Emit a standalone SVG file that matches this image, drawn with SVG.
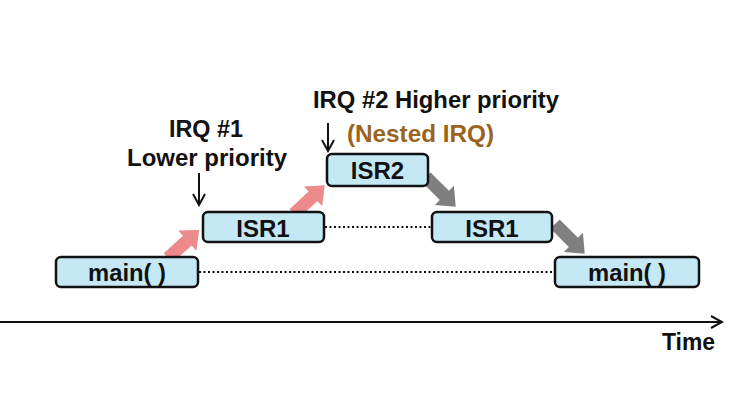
<svg xmlns="http://www.w3.org/2000/svg" width="740" height="400" viewBox="0 0 740 400">
<style>
.box{fill:#C5E8F5;stroke:#111;stroke-width:2.5}
.t{font-family:"Liberation Sans",Arial,sans-serif;font-weight:bold;font-size:23px;fill:#111}
.b{font-size:24px}
.c{text-anchor:middle}
.dot{stroke:#111;stroke-width:2;stroke-dasharray:2,2.5;fill:none}
.pink{fill:#EC8A8C}
.gray{fill:#7F7F7F}
.ln{stroke:#111;stroke-width:2;fill:none}
</style>
<defs>
<path id="blk" d="M0,-6.5 L26,-6.5 L26,-13.5 L42,0 L26,13.5 L26,6.5 L0,6.5 Z"/>
<marker id="open" markerWidth="14" markerHeight="14" refX="12" refY="7" orient="auto" markerUnits="userSpaceOnUse">
<path d="M1,1 L12,7 L1,13" fill="none" stroke="#111" stroke-width="2"/>
</marker>
</defs>
<rect width="740" height="400" fill="#fff"/>
<g id="connectors">
<line class="dot" x1="199" y1="272" x2="555" y2="272"/>
<line class="dot" x1="325" y1="227" x2="432" y2="227"/>
<use href="#blk" class="pink" transform="translate(168,258) rotate(-42)"/>
<use href="#blk" class="pink" transform="translate(294,214) rotate(-43)"/>
<use href="#blk" class="gray" transform="translate(426,177) rotate(45)"/>
<use href="#blk" class="gray" transform="translate(555,224) rotate(45)"/>
<line class="ln" x1="199" y1="173" x2="199" y2="205" marker-end="url(#open)"/>
<line class="ln" x1="328" y1="123" x2="328" y2="151" marker-end="url(#open)"/>
<line class="ln" x1="0" y1="322" x2="722" y2="322" marker-end="url(#open)"/>
</g>
<g id="main1"><rect class="box" x="56" y="257" width="142" height="30" rx="5"/><text class="t b c" x="127" y="281" textLength="78" lengthAdjust="spacingAndGlyphs">main( )</text></g>
<g id="isr1a"><rect class="box" x="203" y="212" width="121" height="30" rx="5"/><text class="t b c" x="263" y="237">ISR1</text></g>
<g id="isr2"><rect class="box" x="327" y="154" width="101" height="32" rx="5"/><text class="t b c" x="377.5" y="179">ISR2</text></g>
<g id="isr1b"><rect class="box" x="432" y="212" width="120" height="30" rx="5"/><text class="t b c" x="492" y="237">ISR1</text></g>
<g id="main2"><rect class="box" x="555" y="257" width="144" height="30" rx="5"/><text class="t b c" x="627" y="281" textLength="78" lengthAdjust="spacingAndGlyphs">main( )</text></g>
<g id="labels">
<text class="t" x="169" y="137" textLength="74" lengthAdjust="spacingAndGlyphs">IRQ #1</text>
<text class="t" x="127" y="166" textLength="160" lengthAdjust="spacingAndGlyphs">Lower priority</text>
<text class="t" x="313" y="108" textLength="246" lengthAdjust="spacingAndGlyphs">IRQ #2 Higher priority</text>
<text class="t" x="347" y="142" textLength="147" lengthAdjust="spacingAndGlyphs" style="fill:#9A6420">(Nested IRQ)</text>
<text class="t" x="662" y="350" textLength="53" lengthAdjust="spacingAndGlyphs">Time</text>
</g>
</svg>
